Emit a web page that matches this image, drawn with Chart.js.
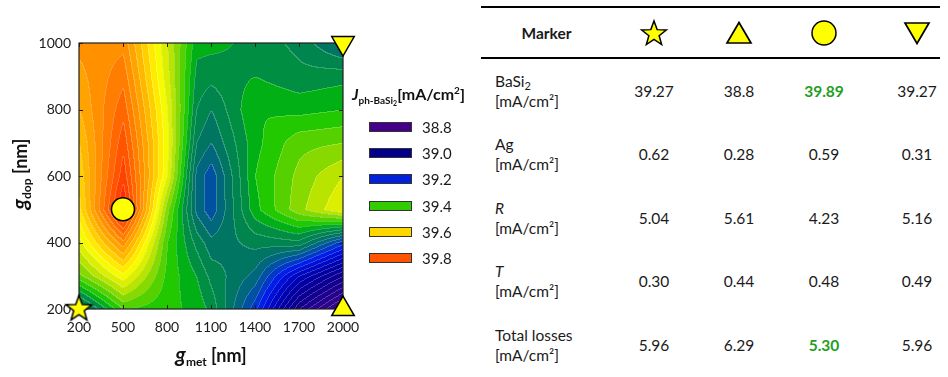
<!DOCTYPE html>
<html>
<head>
<meta charset="utf-8">
<script src="https://cdn.jsdelivr.net/npm/chart.js@4.4.1/dist/chart.umd.min.js"></script>
<style>
  body { margin: 0; width: 948px; height: 377px; position: relative; background: #fff; font-family: Lato, sans-serif; color: #1a1a1a; overflow: hidden; }
  #wrap { position: absolute; left: 0; top: 0; width: 480px; height: 377px; }
  .axtitle { position: absolute; font-weight: bold; font-size: 18px; white-space: nowrap; text-align: center; color: #111; }
  .axtitle i { font-size: 21px; }
  .axtitle sub { font-size: 12px; vertical-align: -4px; }
  #ytitle { left: -61px; top: 162px; width: 160px; height: 24px; line-height: 24px; transform: rotate(-90deg); }
  #xtitle { left: 111px; top: 342px; width: 200px; height: 24px; line-height: 24px; }
  #ltitle { position: absolute; left: 352px; top: 84px; font-weight: bold; font-size: 16px; white-space: nowrap; color: #111; }
  #ltitle sub { font-size: 10px; vertical-align: -4px; }
  #ltitle sub sub { font-size: 7px; vertical-align: -2px; }
  #ltitle sup { font-size: 10px; vertical-align: 6px; }
  .lrow { position: absolute; left: 369px; height: 20px; font-size: 15px; white-space: nowrap; }
  .lrow span.box { position: absolute; left: 0; top: 5px; width: 41px; height: 8px; border: 1px solid #333; }
  .lrow span.lab { position: absolute; left: 53px; top: 0; line-height: 20px; }
  #tbl { position: absolute; left: 481px; top: 6px; width: 459px; border-collapse: collapse; table-layout: fixed; font-size: 15.5px; }
  #tbl td, #tbl th { padding: 0; text-align: center; }
  #tbl tr.hd th { height: 49px; border-top: 2px solid #000; border-bottom: 2px solid #000; font-weight: bold; }
  #tbl tr.dr td { height: 63.5px; }
  #tbl tr.dr:last-child td { border-bottom: 2px solid #000; }
  #tbl td.lab { text-align: left; padding-left: 14px; line-height: 20px; }
  #tbl td.lab sub { font-size: 11px; vertical-align: -3px; line-height: 0; }
  #tbl .c5 { padding-left: 28px; }
  #tbl .best { color: #1f9e1f; font-weight: bold; }
</style>
</head>
<body>
<div id="wrap"><canvas id="chart"></canvas></div>
<div id="ytitle" class="axtitle"><i>g</i><sub>dop</sub> [nm]</div>
<div id="xtitle" class="axtitle"><i>g</i><sub>met</sub> [nm]</div>
<div id="ltitle"><i>J</i><sub>ph-BaSi<sub>2</sub></sub>[mA/cm<sup>2</sup>]</div>
<div id="legend"></div>
<table id="tbl">
  <colgroup><col style="width:131px"><col style="width:84px"><col style="width:86px"><col style="width:84px"><col style="width:74px"></colgroup>
  <tbody id="tbody"></tbody>
</table>
<script>
// grid of the simulation (nm)
const gMet = [200, 500, 800, 1000, 1100, 1400, 1700, 2000];
const gDop = [200, 300, 400, 500, 600, 700, 800, 900, 1000];

// Jph-BaSi2 in mA/cm2, one row per g_dop, columns follow gMet
const jph200  = [39.27, 39.43, 39.41, 39.39, 39.36, 39.20, 38.95, 38.80];
const jph300  = [39.45, 39.57, 39.42, 39.37, 39.33, 39.27, 39.10, 38.98];
const jph400  = [39.54, 39.72, 39.43, 39.33, 39.29, 39.32, 39.33, 39.20];
const jph500  = [39.60, 39.89, 39.47, 39.27, 39.23, 39.39, 39.48, 39.55];
const jph600  = [39.62, 39.84, 39.55, 39.27, 39.23, 39.40, 39.47, 39.52];
const jph700  = [39.64, 39.81, 39.56, 39.31, 39.28, 39.39, 39.45, 39.46];
const jph800  = [39.67, 39.78, 39.55, 39.34, 39.31, 39.40, 39.39, 39.40];
const jph900  = [39.69, 39.75, 39.53, 39.36, 39.35, 39.37, 39.35, 39.36];
const jph1000 = [39.71, 39.72, 39.52, 39.38, 39.38, 39.36, 39.33, 39.27];
const jphRows = [jph200, jph300, jph400, jph500, jph600, jph700, jph800, jph900, jph1000];

// contour levels and colour map (anchors at band centres)
const levelBase = 38.77;
const levelStep = 0.03;
const cmapValues = [38.795, 38.885, 38.975, 39.065, 39.125, 39.185, 39.215, 39.245, 39.275, 39.305, 39.335, 39.365,
                    39.395, 39.425, 39.455, 39.485, 39.515, 39.545, 39.575, 39.605, 39.635, 39.665, 39.695, 39.725,
                    39.785, 39.845, 39.905];
const cmapColors = ['#3c0a84', '#2c048c', '#100090', '#0000a4', '#0008cc', '#0022ee', '#0044b0', '#00589a', '#006e6e', '#007a5c', '#008a48', '#009040',
                    '#00c000', '#33cc00', '#66d400', '#99dc00', '#c8e800', '#e8f200', '#ffff00', '#ffe000', '#ffc800', '#ffb000', '#ff9c00', '#ff8c00',
                    '#ff6000', '#ff3c00', '#ff1000'];

// legend
const legendLevels = ['38.8', '39.0', '39.2', '39.4', '39.6', '39.8'];
const legendColors = ['#440088', '#000088', '#0022dd', '#33cc00', '#ffd700', '#ff5500'];

// markers
const markerMet = [200, 2000, 500, 2000];
const markerDop = [200, 200, 500, 1000];

// table
const rowBasi2 = ['39.27', '38.8', '39.89', '39.27'];
const rowAg    = ['0.62', '0.28', '0.59', '0.31'];
const rowR     = ['5.04', '5.61', '4.23', '5.16'];
const rowT     = ['0.30', '0.44', '0.48', '0.49'];
const rowTotal = ['5.96', '6.29', '5.30', '5.96'];
const bestIdx = 2;

function hexRgb(h) { return [parseInt(h.slice(1, 3), 16), parseInt(h.slice(3, 5), 16), parseInt(h.slice(5, 7), 16)]; }
const cmapRgb = cmapColors.map(hexRgb);

function cmap(v) {
  if (v <= cmapValues[0]) return cmapRgb[0];
  for (let i = 1; i < cmapValues.length; i++) {
    if (v <= cmapValues[i]) {
      const t = (v - cmapValues[i - 1]) / (cmapValues[i] - cmapValues[i - 1]);
      const a = cmapRgb[i - 1], b = cmapRgb[i];
      return [a[0] + (b[0] - a[0]) * t, a[1] + (b[1] - a[1]) * t, a[2] + (b[2] - a[2]) * t];
    }
  }
  return cmapRgb[cmapRgb.length - 1];
}

function findCell(arr, v) {
  let i = 0;
  while (i < arr.length - 2 && v > arr[i + 1]) i++;
  const t = Math.min(1, Math.max(0, (v - arr[i]) / (arr[i + 1] - arr[i])));
  return [i, t];
}

function jphAt(xv, yv) {
  const [i, tx] = findCell(gMet, xv);
  const [j, ty] = findCell(gDop, yv);
  const a = jphRows[j][i], b = jphRows[j][i + 1], c = jphRows[j + 1][i], d = jphRows[j + 1][i + 1];
  return (a * (1 - tx) + b * tx) * (1 - ty) + (c * (1 - tx) + d * tx) * ty;
}

const contourPlugin = {
  id: 'contour',
  beforeDatasetsDraw(chart) {
    const { ctx, chartArea: a, scales: { x, y } } = chart;
    const w = Math.round(a.right - a.left), h = Math.round(a.bottom - a.top);
    const off = document.createElement('canvas');
    off.width = w; off.height = h;
    const octx = off.getContext('2d');
    const img = octx.createImageData(w, h);
    const band = new Int16Array(w * h);
    for (let j = 0; j < h; j++) {
      const yv = y.getValueForPixel(a.top + j + 0.5);
      for (let i = 0; i < w; i++) {
        const xv = x.getValueForPixel(a.left + i + 0.5);
        band[j * w + i] = Math.floor((jphAt(xv, yv) - levelBase) / levelStep + 1e-6);
      }
    }
    for (let j = 0; j < h; j++) {
      for (let i = 0; i < w; i++) {
        const k = j * w + i;
        const col = cmap(levelBase + (band[k] + 0.5) * levelStep);
        const edge = (i > 0 && band[k - 1] !== band[k]) || (j > 0 && band[k - w] !== band[k]);
        const f = edge ? 0.22 : 0;
        img.data[k * 4] = col[0] + (255 - col[0]) * f;
        img.data[k * 4 + 1] = col[1] + (255 - col[1]) * f;
        img.data[k * 4 + 2] = col[2] + (255 - col[2]) * f;
        img.data[k * 4 + 3] = 255;
      }
    }
    octx.putImageData(img, 0, 0);
    ctx.save();
    ctx.drawImage(off, a.left, a.top);
    // box and inward ticks
    ctx.strokeStyle = '#1e1e1e';
    ctx.lineWidth = 1.2;
    ctx.strokeRect(a.left, a.top, a.right - a.left, a.bottom - a.top);
    ctx.beginPath();
    x.ticks.forEach(t => {
      const px = Math.round(x.getPixelForValue(t.value)) + 0.5;
      ctx.moveTo(px, a.bottom); ctx.lineTo(px, a.bottom - 4);
      ctx.moveTo(px, a.top); ctx.lineTo(px, a.top + 4);
    });
    y.ticks.forEach(t => {
      const py = Math.round(y.getPixelForValue(t.value)) + 0.5;
      ctx.moveTo(a.left, py); ctx.lineTo(a.left + 4, py);
      ctx.moveTo(a.right, py); ctx.lineTo(a.right - 4, py);
    });
    ctx.lineWidth = 1;
    ctx.stroke();
    ctx.restore();
  }
};

function starCanvas(R, r) {
  const s = Math.ceil(R * 2 + 4);
  const c = document.createElement('canvas');
  c.width = s; c.height = s;
  const g = c.getContext('2d');
  g.beginPath();
  for (let k = 0; k < 10; k++) {
    const rad = k % 2 ? r : R;
    const ang = -Math.PI / 2 + k * Math.PI / 5;
    const px = s / 2 + rad * Math.cos(ang), py = s / 2 + rad * Math.sin(ang);
    k ? g.lineTo(px, py) : g.moveTo(px, py);
  }
  g.closePath();
  g.fillStyle = '#ffff00';
  g.fill();
  g.lineWidth = 1.5;
  g.strokeStyle = '#000';
  g.stroke();
  return c;
}

Chart.defaults.font.family = 'Lato';

new Chart(document.getElementById('chart'), {
  type: 'scatter',
  data: {
    datasets: [{
      data: markerMet.map((m, i) => ({ x: m, y: markerDop[i] })),
      pointStyle: [starCanvas(13.5, 5.6), 'triangle', 'circle', 'triangle'],
      rotation: [0, 0, 0, 180],
      radius: [13, 13, 11.5, 13],
      backgroundColor: '#ffff00',
      borderColor: '#000',
      borderWidth: 1.5,
      clip: false
    }]
  },
  options: {
    responsive: true,
    maintainAspectRatio: false,
    animation: false,
    events: [],
    layout: { padding: { left: 0, top: 43, right: 137, bottom: 0 } },
    plugins: { legend: { display: false }, tooltip: { enabled: false } },
    scales: {
      x: {
        type: 'linear', min: 200, max: 2000,
        afterFit: s => { s.height = 68; },
        ticks: { stepSize: 300, padding: 10, color: '#1a1a1a', font: { size: 14 }, callback: v => String(v) },
        grid: { display: false, drawTicks: false },
        border: { display: false }
      },
      y: {
        type: 'linear', min: 200, max: 1000,
        afterFit: s => { s.width = 79; },
        ticks: { stepSize: 200, padding: 8, color: '#1a1a1a', font: { size: 14 }, callback: v => String(v) },
        grid: { display: false, drawTicks: false },
        border: { display: false }
      }
    }
  },
  plugins: [contourPlugin]
});

// legend entries
const legendEl = document.getElementById('legend');
legendLevels.forEach((lv, i) => {
  const row = document.createElement('div');
  row.className = 'lrow';
  row.style.top = (117 + i * 26.2) + 'px';
  row.innerHTML = '<span class="box" style="background:' + legendColors[i] + '"></span><span class="lab">' + lv + '</span>';
  legendEl.appendChild(row);
});

// table
const svgStar = (() => {
  const pts = [];
  for (let k = 0; k < 10; k++) {
    const rad = k % 2 ? 5.4 : 13;
    const ang = -Math.PI / 2 + k * Math.PI / 5;
    pts.push((15 + rad * Math.cos(ang)).toFixed(2) + ',' + (16 + rad * Math.sin(ang)).toFixed(2));
  }
  return '<svg width="30" height="30" viewBox="0 0 30 30"><polygon points="' + pts.join(' ') + '" fill="#ffff00" stroke="#000" stroke-width="1.5"/></svg>';
})();
const svgTri = '<svg width="28" height="26" viewBox="0 0 28 26"><polygon points="14,2.5 26,23 2,23" fill="#ffff00" stroke="#000" stroke-width="1.7"/></svg>';
const svgCircle = '<svg width="28" height="28" viewBox="0 0 28 28"><circle cx="14" cy="14" r="12" fill="#ffff00" stroke="#000" stroke-width="1.5"/></svg>';
const svgInv = '<svg width="28" height="26" viewBox="0 0 28 26"><polygon points="2,3 26,3 14,23.5" fill="#ffff00" stroke="#000" stroke-width="1.7"/></svg>';
const headerCells = [svgStar, svgTri, svgCircle, svgInv];

const tableRows = [
  ['BaSi<sub>2</sub><br>[mA/cm²]', rowBasi2, true],
  ['Ag<br>[mA/cm²]', rowAg, false],
  ['<i>R</i><br>[mA/cm²]', rowR, false],
  ['<i>T</i><br>[mA/cm²]', rowT, false],
  ['Total losses<br>[mA/cm²]', rowTotal, true]
];

let html = '<tr class="hd"><th>Marker</th>' + headerCells.map((s, i) => '<th class="' + (i === 3 ? 'c5' : '') + '" style="vertical-align:middle;line-height:0">' + s + '</th>').join('') + '</tr>';
tableRows.forEach(r => {
  html += '<tr class="dr"><td class="lab">' + r[0] + '</td>';
  r[1].forEach((v, i) => {
    const cls = [(i === 3 ? 'c5' : ''), (r[2] && i === bestIdx ? 'best' : '')].join(' ');
    html += '<td class="' + cls + '">' + v + '</td>';
  });
  html += '</tr>';
});
document.getElementById('tbody').innerHTML = html;
</script>
</body>
</html>
